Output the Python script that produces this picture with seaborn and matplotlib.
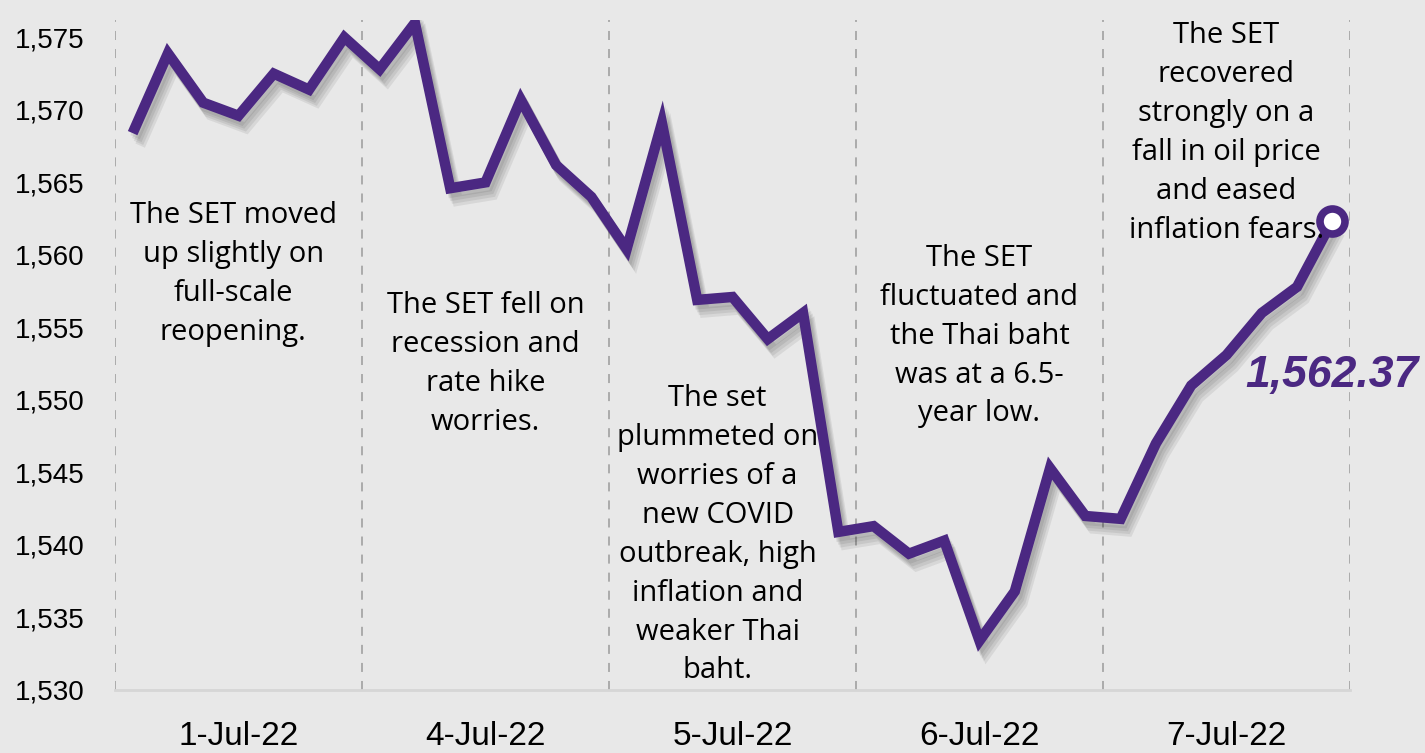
import numpy as np
import pandas as pd
import seaborn as sns
import matplotlib
matplotlib.use("Agg")
import matplotlib.pyplot as plt
import matplotlib.patheffects as pe
from matplotlib import font_manager as fm

# ---- data ----
days = ["1-Jul-22", "4-Jul-22", "5-Jul-22", "6-Jul-22", "7-Jul-22"]
points_per_day = 7
set_index = [
    1568.4, 1573.9, 1570.5, 1569.6, 1572.5, 1571.4, 1575.0,
    1572.8, 1576.0, 1564.6, 1565.0, 1570.7, 1566.2, 1564.0,
    1560.4, 1569.1, 1556.9, 1557.1, 1554.2, 1556.0, 1540.9,
    1541.3, 1539.4, 1540.3, 1533.4, 1536.8, 1545.3, 1542.0,
    1541.8, 1547.0, 1551.0, 1553.1, 1556.0, 1557.8, 1562.37,
]
last_label = "1,562.37"
notes = [
    "The SET moved\nup slightly on\nfull-scale\nreopening.",
    "The SET fell on\nrecession and\nrate hike\nworries.",
    "The set\nplummeted on\nworries of a\nnew COVID\noutbreak, high\ninflation and\nweaker Thai\nbaht.",
    "The SET\nfluctuated and\nthe Thai baht\nwas at a 6.5-\nyear low.",
    "The SET\nrecovered\nstrongly on a\nfall in oil price\nand eased\ninflation fears.",
]
note_centers = [1558.7, 1552.5, 1540.7, 1554.4, 1568.4]
note_shift = [-0.15, 0.0, -0.42, 0.0, 0.0]
y_ticks = [1530, 1535, 1540, 1545, 1550, 1555, 1560, 1565, 1570, 1575]

df = pd.DataFrame({"i": np.arange(len(set_index)), "v": set_index})

BG = "#e8e8e8"
PURPLE = "#4b2882"

sns.set_theme(style="white")
names = {f.name for f in fm.fontManager.ttflist}
narrow = "Liberation Sans Narrow" if "Liberation Sans Narrow" in names else "Liberation Sans"
plt.rcParams["font.family"] = ["Open Sans", "DejaVu Sans"]

fig = plt.figure(figsize=(14.25, 7.53), dpi=100, facecolor=BG)
ax = fig.add_axes([115/1425, 1 - 690/753, 1235/1425, 670/753])
ax.set_facecolor(BG)

shadow = [pe.SimpleLineShadow(offset=(o * 0.6, -o), shadow_color="black", alpha=0.07)
          for o in (3, 5, 7, 9)]
sns.lineplot(data=df, x="i", y="v", ax=ax, color=PURPLE, linewidth=7.5,
             solid_joinstyle="miter", solid_capstyle="butt",
             path_effects=shadow + [pe.Normal()])
n = len(set_index)
ax.plot([n - 1], [set_index[-1]], marker="o", markersize=18, markerfacecolor="white",
        markeredgecolor=PURPLE, markeredgewidth=5.5, zorder=5)

ax.set_xlim(-0.5, n - 0.5)
ax.set_ylim(1530, 1576.2)

for k in range(len(days) + 1):
    ax.axvline(k * points_per_day - 0.5, color="#a6a6a6", linestyle=(0, (5, 5)),
               linewidth=1.3, zorder=0)

centers = [k * points_per_day + (points_per_day - 1) / 2 for k in range(len(days))]
ax.set_xticks(centers)
ax.set_xticklabels(days, fontsize=24, family=narrow, color="black")
ax.set_yticks(y_ticks)
ax.set_yticklabels([f"{t:,}" for t in y_ticks], fontsize=20, family=narrow, color="black")
ax.tick_params(axis="x", length=0, pad=22)
ax.tick_params(axis="y", length=0, pad=22)
ax.set_xlabel("")
ax.set_ylabel("")

for s in ["top", "right", "left"]:
    ax.spines[s].set_visible(False)
ax.spines["bottom"].set_color("#d6d6d6")
ax.spines["bottom"].set_linewidth(2)

for k, (txt, yc) in enumerate(zip(notes, note_centers)):
    ax.text(centers[k] + note_shift[k], yc, txt, ha="center", va="center", fontsize=21,
            linespacing=1.45, color="black", zorder=6)

ax.text(n - 1, 1551.7, last_label, ha="center", va="center", fontsize=32,
        family="Liberation Sans", fontweight="bold", fontstyle="italic",
        color=PURPLE, zorder=6, clip_on=False)

fig.savefig("out.png", dpi=100, facecolor=BG)
